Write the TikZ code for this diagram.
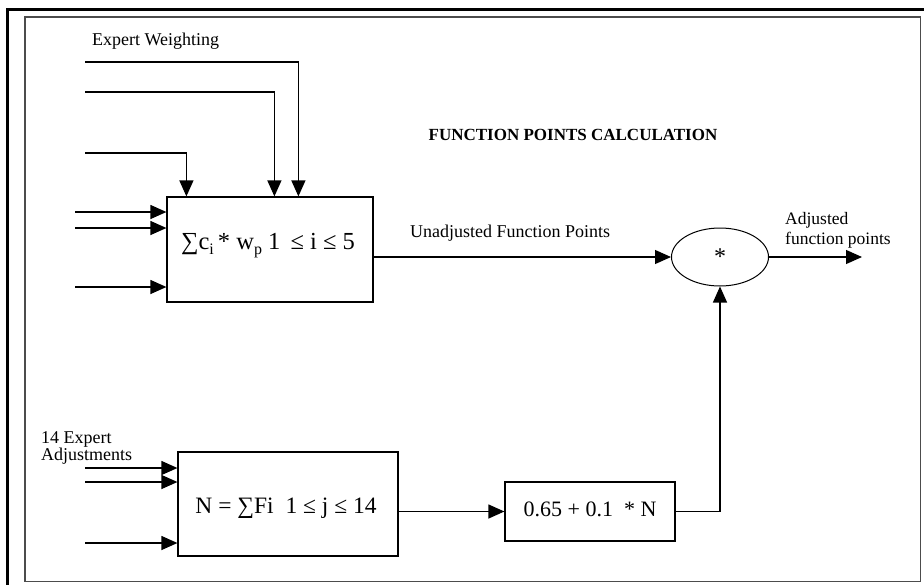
\documentclass[tikz,border=0pt]{standalone}
\usepackage{fontspec}
\setmainfont{Liberation Serif}
\usetikzlibrary{arrows.meta,shapes.geometric}
\begin{document}
\begin{tikzpicture}[x=1pt,y=-1pt,
  flow/.style={line width=1.2pt, -{Triangle[length=16pt,width=14pt]}},
  blockbox/.style={draw, line width=1.2pt, rectangle, inner sep=0pt},
  lbl/.style={font=\fontsize{18}{19}\selectfont, inner sep=0pt},
  big/.style={font=\fontsize{23.5}{25}\selectfont, inner sep=0pt},
  title/.style={font=\fontsize{17}{19}\selectfont\bfseries, inner sep=0pt}]
\useasboundingbox (0,0) rectangle (924,584);

% page frames
\draw[line width=3pt] (7.5,600) -- (7.5,9.5) -- (940,9.5);
\draw[line width=1.6pt, black!70] (25,17) rectangle (920.5,581.5);

% title and labels
\node[title] (ttl) at (573,135) {FUNCTION POINTS CALCULATION};
\node[lbl, anchor=base west] (ewlbl) at (92,45) {Expert Weighting};
\node[lbl, anchor=west] (uflbl) at (410,233) {Unadjusted Function Points};
\node[lbl, anchor=west, align=left, font=\fontsize{17.5}{20}\selectfont] (aflbl) at (785,230) {Adjusted\\function points};
\node[lbl, anchor=west, align=left, font=\fontsize{18}{15}\selectfont] (ealbl) at (41,448) {14 Expert\\Adjustments};

% weighted sum block
\node[blockbox, minimum width=206pt, minimum height=105pt] (wsum) at (270,249.5) {};
\node[big, font=\fontsize{24.5}{26}\selectfont] (wsumtxt) at (268,246)
  {∑c\raisebox{-0.45ex}{\fontsize{16}{16}\selectfont i}\,* w\raisebox{-0.45ex}{\fontsize{16}{16}\selectfont p}\ 1 \,≤ i ≤ 5};

% combining ellipse
\node[draw, ellipse, line width=1pt, minimum width=97pt, minimum height=58pt,
      inner sep=0pt, font=\fontsize{24}{24}\selectfont] (mult) at (720,257) {\raisebox{-0.35ex}{*}};

% adjustment sum block
\node[blockbox, minimum width=220pt, minimum height=104pt] (nsum) at (288,504) {};
\node[big] (nsumtxt) at (286,508) {N = ∑Fi\ \ 1 ≤ j ≤ 14};

% value adjustment factor block
\node[blockbox, minimum width=170pt, minimum height=59pt] (calc) at (590,511.5) {};
\node[big, font=\fontsize{22}{24}\selectfont] (calctxt) at (590,509) {0.65 + 0.1\ \ * N};

% expert weighting inputs from above
\coordinate (w1) at (85,62);
\coordinate (w2) at (85,92);
\coordinate (w3) at (85,153);
\draw[flow] (w1) -| ([xshift=132pt]wsum.north west);
\draw[flow] (w2) -| ([xshift=108pt]wsum.north west);
\draw[flow] (w3) -| ([xshift=20pt]wsum.north west);

% counts entering from the left
\coordinate (c1) at (75,212);
\coordinate (c2) at (75,228);
\coordinate (c3) at (75,287);
\draw[flow] (c1) -- (c1 -| wsum.west);
\draw[flow] (c2) -- (c2 -| wsum.west);
\draw[flow] (c3) -- (c3 -| wsum.west);

% expert adjustments entering from the left
\coordinate (f1) at (85,468);
\coordinate (f2) at (85,482);
\coordinate (f3) at (85,543);
\draw[flow] (f1) -- (f1 -| nsum.west);
\draw[flow] (f2) -- (f2 -| nsum.west);
\draw[flow] (f3) -- (f3 -| nsum.west);

% flow between blocks
\draw[flow] (wsum.east |- mult.west) -- (mult.west);
\draw[flow] (nsum.east |- calc.west) -- (calc.west);
\draw[flow] (calc.east) -| (mult.south);
\coordinate (fpout) at (862,257);
\draw[flow] (mult.east) -- (fpout);
\end{tikzpicture}
\end{document}
